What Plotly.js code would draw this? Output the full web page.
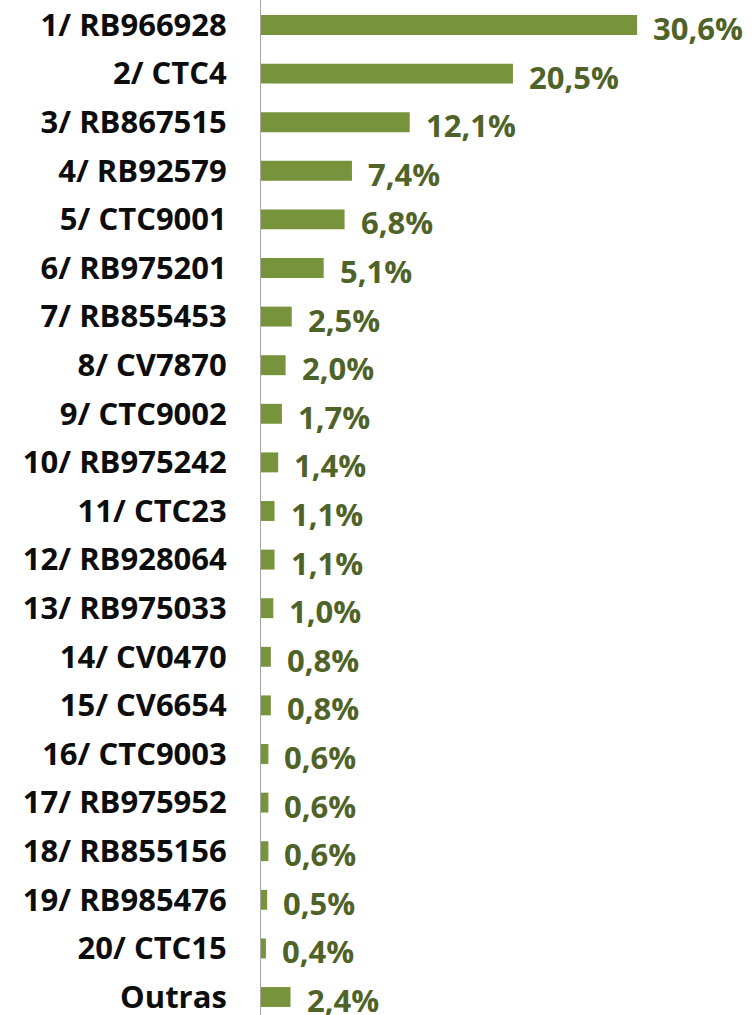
<!DOCTYPE html>
<html>
<head>
<meta charset="utf-8">
<script src="https://cdn.plot.ly/plotly-3.0.1.min.js"></script>
<style>html,body{margin:0;padding:0;background:#fff;}#chart{width:752px;height:1015px;}</style>
</head>
<body>
<div id="chart"></div>
<script>
const categories = ["1/ RB966928","2/ CTC4","3/ RB867515","4/ RB92579","5/ CTC9001","6/ RB975201","7/ RB855453","8/ CV7870","9/ CTC9002","10/ RB975242","11/ CTC23","12/ RB928064","13/ RB975033","14/ CV0470","15/ CV6654","16/ CTC9003","17/ RB975952","18/ RB855156","19/ RB985476","20/ CTC15","Outras"];
const values = [30.6,20.5,12.1,7.4,6.8,5.1,2.5,2.0,1.7,1.4,1.1,1.1,1.0,0.8,0.8,0.6,0.6,0.6,0.5,0.4,2.4];
const valueLabels = values.map(v => v.toFixed(1).replace('.', ',') + '%');

const FONT = '"Open Sans", "Noto Sans", sans-serif';

const trace = {
  type: 'bar',
  orientation: 'h',
  x: values,
  y: categories,
  width: 0.41,
  marker: {color: '#77933C'},
  hoverinfo: 'skip'
};

const annotations = values.map((v, i) => ({
  x: v, y: categories[i], xref: 'x', yref: 'y',
  text: valueLabels[i], showarrow: false,
  xanchor: 'left', yanchor: 'middle',
  xshift: 14, yshift: -3,
  font: {family: FONT, size: 31, color: '#4F6228', weight: 700}
}));

const layout = {
  width: 752, height: 1015,
  margin: {l: 261, r: 0, t: 0, b: 0, pad: 0},
  paper_bgcolor: '#fff', plot_bgcolor: '#fff',
  showlegend: false,
  xaxis: {range: [0, 39.95], visible: false, showgrid: false, zeroline: false},
  yaxis: {
    type: 'category',
    range: [20 + 18/48.6, -25/48.6],
    showline: true, linecolor: '#A6A6A6', linewidth: 1,
    showgrid: false, zeroline: false,
    ticks: 'outside', ticklen: 27, tickcolor: 'rgba(0,0,0,0)',
    tickfont: {family: FONT, size: 31, color: '#0D0D0D', weight: 700}
  },
  annotations: annotations
};

Plotly.newPlot('chart', [trace], layout, {displayModeBar: false, staticPlot: true});
</script>
</body>
</html>
